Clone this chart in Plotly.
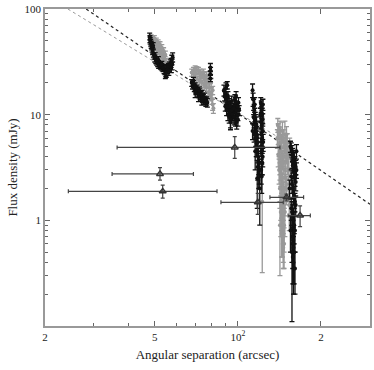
import plotly.graph_objects as go

# (separation arcsec, flux mJy, error mJy)
A_BLACK = [(47.9,55,4),(48.0,52,4),(48.1,50,3.5),(48.3,48,3.5),(48.5,46,3.5),(48.7,44,3),(48.9,42,3),
           (49.1,40,3),(49.4,38,3),(49.7,36,2.5),(50.0,34,2.5),(50.4,33,2.5),(50.8,32,2.5),(51.2,31,2.5),
           (51.6,30,2.5),(52.0,29.5,2),(52.4,29,2),(52.8,28.5,2),(53.2,28,2),(53.6,27.5,2),(54.0,27,2.5),
           (54.4,26.5,2.5),(54.8,26,3),(55.2,26.5,3),(55.6,27,2.5),(56.0,28,2.5),(56.4,29,2.5),(56.8,30,3),
           (57.2,31,3),(57.6,33,3.5),(58.0,35,3.5),(54.6,24.5,2.5),(55.0,25,2.5),(53.0,30,2),(51.5,33,2.5),
           (50.2,36,2.5),(49.3,45,3),(56.2,26,2.5),(57.4,28,3),(57.8,30,3.5)]
A_GRAY = [(48.5,54,3),(49,52,3),(49.5,50,3),(50,48,3),(50.5,46,3),(51,45,3),(51.5,43,3),(52,42,3),
          (52.5,40,3),(53,38,3),(53.5,36,2.5),(54,34,2.5),(54.5,33,2.5),(49.2,47,3),(50,44,3),(50.8,42,3),
          (51.6,40,3),(52.4,37,2.5),(53.2,35,2.5),(49.8,53,3),(50.6,50,3),(51.4,48,3),(52.2,46,3),(53,43,3),
          (53.8,40,3),(54.6,37,3)]
B_GRAY = [(68,25,2),(69,26,2),(70,27,2),(71,26.5,2),(72,26,2),(73,25,2),(74,24,2),(75,23,2),(76,22,2),
          (77,21,2),(78,20,2),(79,18,2),(80,16,2),(80.5,14,1.5),(81,12.5,1.5),(81.5,11.5,1.2),(69.5,23,2),
          (71,22,2),(72.5,21,2),(74,20,2),(75.5,19,2),(77,18,2),(78.5,16.5,1.5),(79.5,15,1.5),(73,23,2),
          (76,20,2),(70,24.5,2),(75,25,2),(77,23.5,2),(80,20,2),(81,17,1.5)]
B_BLACK = [(68,20,1.5),(68.5,19,1.5),(69,19.5,1.5),(69.5,18,1.5),(70,18.5,1.5),(70.5,17,1.5),(71,17.5,1.5),
           (71.5,16.5,1.5),(72,16,1.5),(72.5,16.8,1.5),(73,15.5,1.5),(73.5,15,1.5),(74,15.5,1.5),
           (74.5,14.5,1.5),(75,14,1.5),(75.5,14.5,1.5),(76,13.8,1.2),(76.5,13.2,1.2),(77,13.5,1.2),
           (77.5,13,1.2),(70,16,1.5),(72,14.8,1.5),(74,13.5,1.2),(69,21,1.5),(79.5,28,2.5),(79.6,26,2),
           (79.4,24,2),(79.5,22,1.5)]
C_BLACK = [(89,17,2),(89.5,15,1.5),(90,16,1.5),(90.5,18,2),(91,14,1.5),(91.5,13,1.5),(92,15,1.5),
           (92.5,12,1.2),(93,13,1.2),(93.5,11,1.2),(94,12,1.2),(94.5,10.5,1.2),(95,11,1.2),(95.5,10,1.2),
           (96,9.5,1.2),(90,12,1.2),(91,11,1.2),(92,10,1.2),(93,9.5,1.2),(94,9,1.5),(97,12,1.5),(97.5,14,1.5),
           (98,13,1.5),(98.5,15,1.5),(99,11,1.2),(99.5,12,1.2),(100,10,1.2),(100.5,13,1.5),(101,11,1.2),
           (98,9,1.2),(99,8.5,1.2),(100,9,1.2),(96.5,11.5,1.2),(95,13.5,1.5),(91.5,19,1.5),(94,8.5,1.3),
           (97,9.5,1.5)]
D_BLACK = [(113,17,2.5),(113.5,14,2),(114,12,2),(114.5,11,1.5),(115,10,1.5),(115.5,9,1.5),(116,8.5,1.5),
           (116.5,8,1.5),(117,7.5,1.2),(114,9.5,1.5),(115,8,1.2),(116,7,1.2),(117,6.5,1.2),(117.5,6,1),
           (118,5.5,1),(116,6,1),(117,5,1),(118,4.5,1),(118.5,4,0.8),(119,3.5,0.8),(119.5,3,0.8),
           (115,12.5,2),(113,7,1.2),(114.5,6.5,1),(116.5,5,1),(118,3.2,0.8),(119,2.8,0.8),(115.5,4.5,1.5),
           (117.5,2.5,1.2),(121,13,1.5),(121.5,12,1.5),(122,11,1.5),(122.5,10,1.5),(123,9,1.2),(121,8.5,1.2),
           (122,8,1.2),(123,7,1.2),(121.5,6.5,1),(122.5,6,1),(123.5,5.5,1),(121,5,1),(122,4.5,1),(123,4,0.8),
           (122.5,3.5,0.8),(121.5,3,0.8),(122,2.6,0.8),(123.2,12.5,1.5),(120.5,10,1.5),(120,2.0,1.1)]
E_GRAY = [(140,7,1.2),(141,6.5,1.2),(142,7.5,1.2),(143,6,1.2),(144,5.5,1),(145,7,1.5),(146,6,1.2),
          (147,5,1),(148,6.5,2.2),(149,5.5,1),(141,5,1),(142,4.5,1),(143,4,0.9),(144,4.5,0.9),(145,3.8,0.8),
          (146,3.5,0.8),(147,4,0.8),(148,3,0.7),(142,3.2,0.8),(143,2.8,0.7),(144,2.5,0.7),(145,2.2,0.6),
          (146,2,0.6),(147,1.8,0.5),(148,1.6,0.5),(143,1.5,0.5),(144,1.3,0.5),(145,1.1,0.4),(146,1.0,0.4),
          (147,0.9,0.4),(145,0.8,0.35),(146,0.7,0.3),(147,0.6,0.25),(144,0.75,0.3),(146,0.55,0.2),
          (150,4.5,0.9),(151,3.5,0.8),(149,2.5,0.6),(150,6.5,1.2),(122.5,1.5,1.18),
          (139,6,1.2),(140,4.2,1),(141,3,0.8),(142,2,0.7),(143,1.2,0.5),(148,1.2,0.5),(149,4,0.9),
          (150,2,0.6),(151,5.5,1.1),(139.5,8,1.2),(144,3.4,0.8),(142,0.9,0.6),
          (152,4,0.9),(153,3,0.8),(154,5,1),(152.5,2.2,0.7),(153.5,1.4,0.6)]
E_BLACK = [(155,5,0.6),(156,4.8,0.6),(157,4.5,0.6),(158,4.2,0.6),(159,4,0.6),(160,3.8,0.6),(161,3.5,0.5),
           (162,3.2,0.5),(163,3,0.5),(157,3.6,0.5),(158,3.3,0.5),(159,3,0.5),(160,2.8,0.5),(161,2.5,0.4),
           (162,2.3,0.4),(156,2.6,0.4),(157,2.2,0.4),(158,2,0.4),(159,1.8,0.4),(160,1.7,0.4),(161,1.5,0.3),
           (162,1.4,0.3),(156,1.3,0.3),(157,1.2,0.3),(158,1.1,0.3),(159,1,0.3),(160,0.9,0.3),(161,0.8,0.3),
           (157,0.7,0.3),(158,0.6,0.25),(159,0.55,0.3),(160,0.5,0.25),(158,0.45,0.2),(159,0.4,0.2),
           (161,0.35,0.15),(157,0.5,0.39),(163,4.5,0.7),(154,2,0.4),(155,0.8,0.3)]

# triangles: x, y, x-, x+, y-, y+
TRI_X = [97.4, 52.2, 53.4, 118, 150, 168]
TRI_Y = [4.9, 2.75, 1.88, 1.48, 1.65, 1.11]
TRI_XM = [60.9, 17.2, 29.1, 31.2, 19.4, 16]
TRI_XP = [44.6, 16.8, 30.6, 28, 23, 15]
TRI_YM = [1.05, 0.35, 0.26, 0.34, 0.12, 0.24]
TRI_YP = [1.3, 0.4, 0.27, 0.32, 0.12, 0.26]

FIT_BLACK_X = [28.2, 301]
FIT_BLACK_Y = [100, 1.42]
FIT_GRAY_X = [24.2, 155]
FIT_GRAY_Y = [100, 5.2]

fig = go.Figure()

fig.add_trace(go.Scatter(x=FIT_GRAY_X, y=FIT_GRAY_Y, mode="lines",
                         line=dict(color="#9a9a9a", width=1, dash="dot")))
fig.add_trace(go.Scatter(x=FIT_BLACK_X, y=FIT_BLACK_Y, mode="lines",
                         line=dict(color="#222", width=1.2, dash="dot")))


def pts(color, *groups):
    rows = [r for g in groups for r in g]
    fig.add_trace(go.Scatter(
        x=[r[0] for r in rows], y=[r[1] for r in rows], mode="markers",
        marker=dict(color=color, size=4),
        error_y=dict(type="data", array=[r[2] for r in rows], color=color, thickness=1.3, width=2.5)))


pts("#999999", A_GRAY, B_GRAY, E_GRAY)
pts("#111111", A_BLACK, B_BLACK, C_BLACK, D_BLACK, E_BLACK)

fig.add_trace(go.Scatter(
    x=TRI_X, y=TRI_Y, mode="markers",
    marker=dict(symbol="triangle-up-open", size=6, color="#333", line=dict(width=1.5)),
    error_x=dict(type="data", symmetric=False, array=TRI_XP, arrayminus=TRI_XM,
                 color="#444", thickness=1.2, width=2),
    error_y=dict(type="data", symmetric=False, array=TRI_YP, arrayminus=TRI_YM,
                 color="#444", thickness=1.2, width=2)))

font = dict(family="Liberation Serif", size=11, color="#222")
axis = dict(type="log", showline=True, mirror="allticks", linecolor="#999", linewidth=1.5,
            ticks="inside", ticklen=5, tickcolor="#666", showgrid=False, zeroline=False,
            tickfont=font, automargin=False)

fig.update_layout(
    width=374, height=370, margin=dict(l=45, r=4, t=9, b=44),
    paper_bgcolor="white", plot_bgcolor="white", showlegend=False,
    xaxis=dict(axis, range=[1.30103, 2.4786],
               tickvals=[20, 50, 100, 200], ticktext=["2", "5", "10<sup>2</sup>", "2"],
               minor=dict(tickvals=[30, 40, 60, 70, 80, 90, 300], ticks="inside", ticklen=3,
                          tickcolor="#666"),
               title=dict(text="Angular separation (arcsec)", standoff=8,
                          font=dict(family="Liberation Serif", size=13, color="#222"))),
    yaxis=dict(axis, range=[-1, 2],
               tickvals=[1, 10, 100], ticktext=["1", "10", "100"],
               minor=dict(tickvals=[0.2, 0.3, 0.4, 0.5, 0.6, 0.7, 0.8, 0.9,
                                    2, 3, 4, 5, 6, 7, 8, 9, 20, 30, 40, 50, 60, 70, 80, 90],
                          ticks="inside", ticklen=3, tickcolor="#666"),
               title=dict(text="Flux density (mJy)", standoff=4,
                          font=dict(family="Liberation Serif", size=13, color="#222"))),
)

# the page's default body margin would shift the chart by 8px
fig.write_html("out.html", config={"displayModeBar": False},
               post_script="document.body.style.margin='0';")
